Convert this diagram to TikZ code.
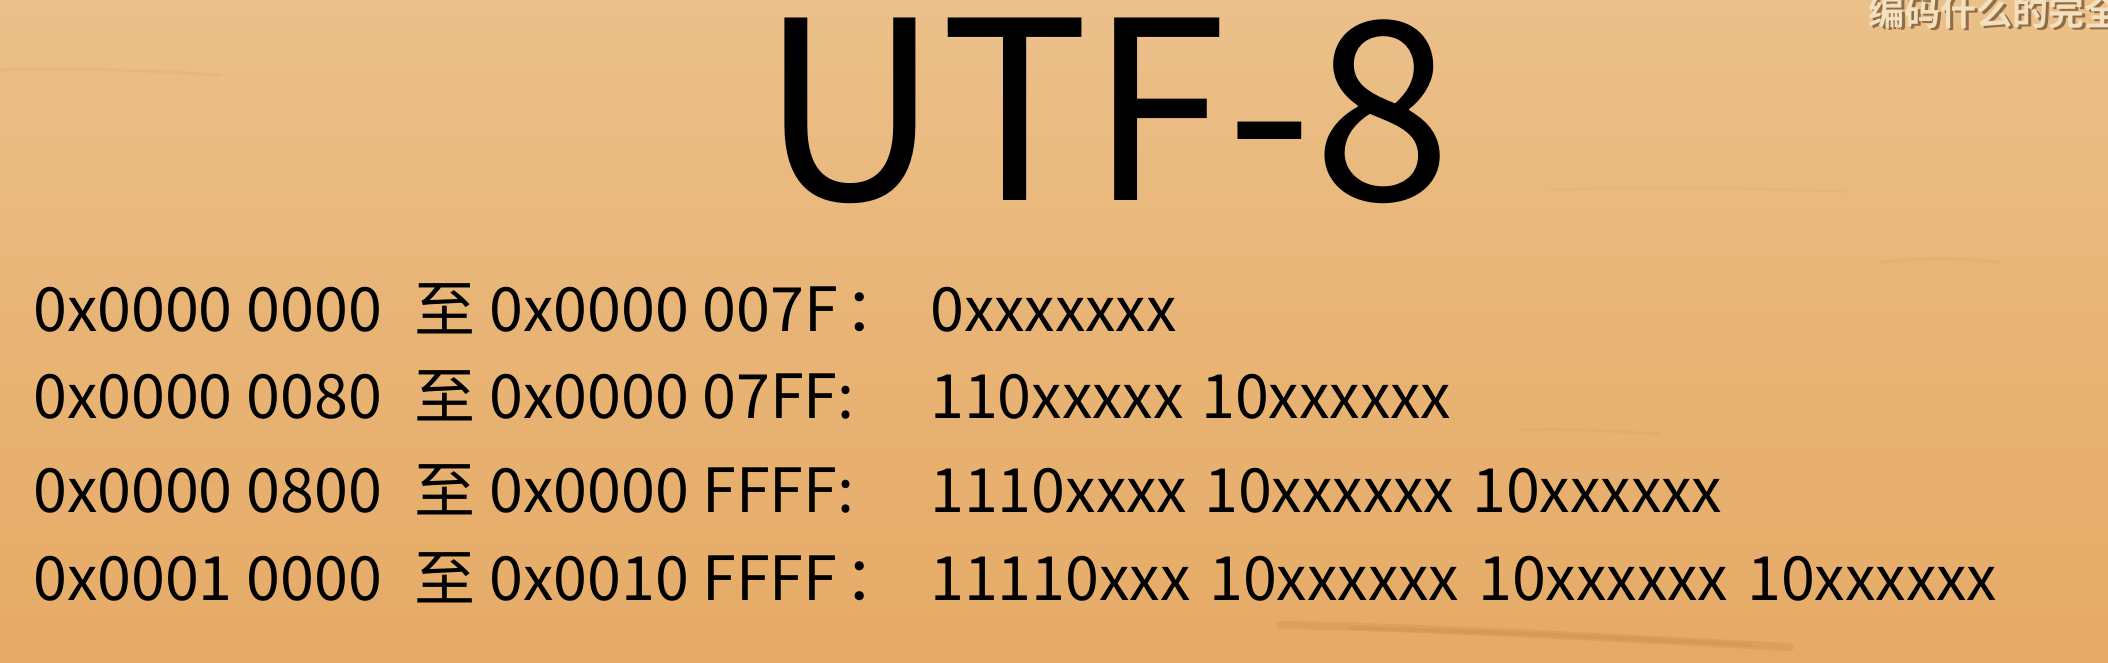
\documentclass[tikz,border=0pt]{standalone}
\usepackage{fontspec}
\setmainfont{Noto Sans CJK SC}
\newfontfamily\cjkbold{Noto Sans CJK SC Bold}
\usetikzlibrary{shadings}
\definecolor{woodtop}{HTML}{EBC08A}
\definecolor{woodmid}{HTML}{E8B475}
\definecolor{woodbot}{HTML}{E6AA66}
\definecolor{grain}{HTML}{B8773C}
\definecolor{cream}{HTML}{F2E0BE}
\definecolor{capshadow}{HTML}{6B4A2A}
\tikzset{
  rowtext/.style={anchor=base west, inner sep=0pt, font=\fontsize{61}{70}\selectfont, text=black},
  grainline/.style={draw=grain, line cap=round},
}
\begin{document}
\begin{tikzpicture}[x=1pt,y=-1pt]
  \useasboundingbox (0,0) rectangle (2108,662);
  \begin{scope}
    \clip (0,0) rectangle (2108,662);
    \shade[top color=woodtop, bottom color=woodbot, middle color=woodmid] (0,0) rectangle (2108,662);
    % wood grain streaks
    \draw[grainline, line width=3pt, opacity=0.08] (0,70) .. controls (80,66) and (160,72) .. (220,75);
    \draw[grainline, line width=2pt, opacity=0.06] (1550,190) .. controls (1650,186) and (1750,188) .. (1850,192);
    \draw[grainline, line width=3pt, opacity=0.10] (1880,262) .. controls (1920,258) and (1960,258) .. (2000,262);
    \draw[grainline, line width=3pt, opacity=0.08] (1520,430) .. controls (1580,428) and (1620,432) .. (1660,434);
    \draw[grainline, line width=2pt, opacity=0.07] (140,480) .. controls (170,478) and (190,480) .. (215,482);
    \draw[grainline, line width=8pt, opacity=0.20] (1280,625) .. controls (1450,628) and (1650,640) .. (1790,647);
    \draw[grainline, line width=4pt, opacity=0.16] (1350,628) .. controls (1500,632) and (1620,638) .. (1750,645);
    % top-right caption
    \node[anchor=base west, inner sep=0pt, font=\cjkbold\fontsize{36}{40}\selectfont, text=capshadow, opacity=0.7] at (1871,27) {编码什么的完全};
    \node (caption) [anchor=base west, inner sep=0pt, font=\cjkbold\fontsize{36}{40}\selectfont, text=cream] at (1868,25) {编码什么的完全};
  \end{scope}
  % title
  \node (title) [anchor=base, inner sep=0pt, font=\fontsize{249}{260}\selectfont] at (1106,200) {UTF-8};
  % row 1
  \node (a1) [rowtext] at (33,331) {0x0000 0000};
  \node (z1) [rowtext] at (414,331) {至};
  \node (b1) [rowtext] at (489,331) {0x0000 007F\hspace{7pt}：};
  \node (c1) [rowtext] at (930,331) {0xxxxxxx};
  % row 2
  \node (a2) [rowtext] at (33,418) {0x0000 0080};
  \node (z2) [rowtext] at (414,418) {至};
  \node (b2) [rowtext] at (489,418) {0x0000 07FF:};
  \node (c2) [rowtext] at (930,418) {110xxxxx};
  \node (d2) [rowtext] at (1201,418) {10xxxxxx};
  % row 3
  \node (a3) [rowtext] at (33,512) {0x0000 0800};
  \node (z3) [rowtext] at (414,512) {至};
  \node (b3) [rowtext] at (489,512) {0x0000 FFFF:};
  \node (c3) [rowtext] at (930,512) {1110xxxx};
  \node (d3) [rowtext] at (1204,512) {10xxxxxx};
  \node (e3) [rowtext] at (1472,512) {10xxxxxx};
  % row 4
  \node (a4) [rowtext] at (33,600) {0x0001 0000};
  \node (z4) [rowtext] at (414,600) {至};
  \node (b4) [rowtext] at (489,600) {0x0010 FFFF\hspace{7pt}：};
  \node (c4) [rowtext] at (930,600) {11110xxx};
  \node (d4) [rowtext] at (1209,600) {10xxxxxx};
  \node (e4) [rowtext] at (1478,600) {10xxxxxx};
  \node (f4) [rowtext] at (1747,600) {10xxxxxx};
\end{tikzpicture}
\end{document}
